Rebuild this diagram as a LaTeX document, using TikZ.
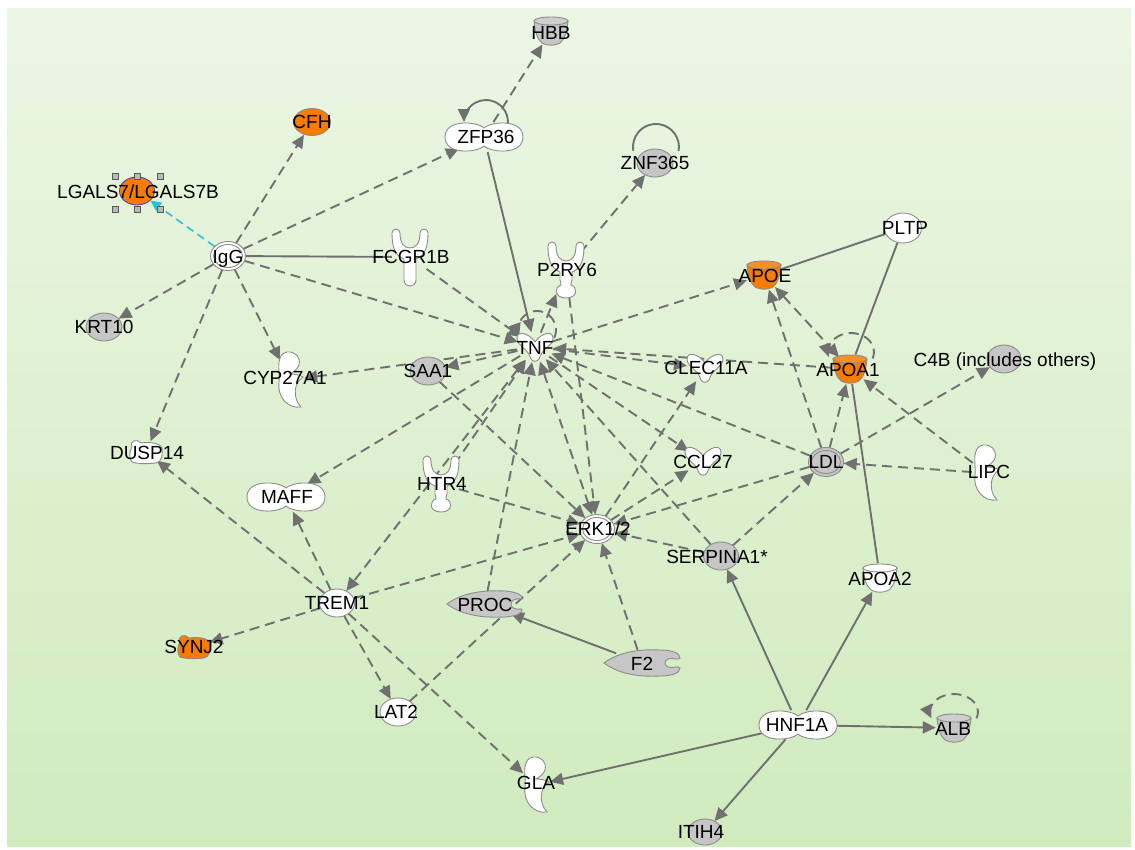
\documentclass[tikz,border=0pt]{standalone}
\usepackage{fontspec}
\setmainfont{Liberation Sans}
\usetikzlibrary{arrows.meta,shapes.geometric}
\pgfdeclarelayer{bg}
\pgfdeclarelayer{edges}
\pgfdeclarelayer{shapes}
\pgfsetlayers{bg,edges,shapes,main}
\definecolor{edgecol}{RGB}{112,112,112}
\definecolor{outl}{RGB}{140,140,140}
\definecolor{ipaor}{RGB}{247,124,0}
\definecolor{ipagr}{RGB}{198,198,198}
\definecolor{selcy}{RGB}{38,196,214}
\definecolor{bgtop}{RGB}{236,246,228}
\definecolor{bgmid}{RGB}{221,240,207}
\definecolor{bgbot}{RGB}{208,235,190}
\tikzset{
  bd/.style 2 args={draw=none, ellipse, inner sep=0pt, minimum width=#1, minimum height=#2},
  lbl/.style={inner sep=0pt, font=\fontsize{19}{21}\selectfont, text=black, text height=13.5pt, text depth=0pt},
  shp/.style={draw=outl, line width=0.9pt},
  >={Triangle[length=13pt,width=12pt]},
  dedge/.style={draw=edgecol, line width=1.9pt, dash pattern=on 10pt off 6pt, ->},
  sedge/.style={draw=edgecol, line width=1.9pt, ->},
  sline/.style={draw=edgecol, line width=1.9pt},
  cyedge/.style={draw=selcy, line width=1.6pt, dash pattern=on 8pt off 5pt, -{Triangle[length=11pt,width=10pt]}},
  selsq/.style={draw=gray!70!black, fill=gray!55, line width=0.6pt}
}
\newcommand{\shpell}[4]{\path[shp,fill=#2] (#1.center) ellipse [x radius=#3,y radius=#4];}
\newcommand{\shpdbl}[2]{\path[shp,fill=#2] (#1.center) ellipse [x radius=17.5,y radius=14.5];
  \path[shp,fill=#2] (#1.center) ellipse [x radius=14.5,y radius=11.5];}
\newcommand{\shpcup}[2]{\begin{scope}[shift={(#1.center)}]
  \path[shp,fill=#2] (-17,-10) .. controls (-16,0) and (-14,8) .. (-9,12) .. controls (-4,15) and (4,15) .. (9,12) .. controls (14,8) and (16,0) .. (17,-10) -- cycle;
  \path[shp,fill=#2!85!white] (0,-10) ellipse [x radius=17,y radius=4];
  \end{scope}}
\newcommand{\shppeanut}[2]{\begin{scope}[shift={(#1.center)}]
  \path[shp,fill=#2] (0,-9) .. controls (-8,-16) and (-39,-18) .. (-39,0) .. controls (-39,18) and (-8,16) .. (0,9) .. controls (8,16) and (39,18) .. (39,0) .. controls (39,-18) and (8,-16) .. (0,-9) -- cycle;
  \end{scope}}
\newcommand{\shprecep}[2]{\begin{scope}[shift={(#1.center)}]
  \path[shp,fill=#2] (-6,23) -- (-6,2) .. controls (-16,-2) and (-18,-12) .. (-18,-24) arc[start angle=180,end angle=360,radius=4] .. controls (-10,-14) and (-6,-9) .. (0,-9) .. controls (6,-9) and (10,-14) .. (10,-24) arc[start angle=180,end angle=360,radius=4] .. controls (18,-12) and (16,-2) .. (6,2) -- (6,23) arc[start angle=0,end angle=180,radius=6] -- cycle;
  \end{scope}}
\newcommand{\shprecepb}[2]{\begin{scope}[shift={(#1.center)}]
  \path[shp,fill=#2] (-6,2) .. controls (-16,-2) and (-18,-12) .. (-18,-24) arc[start angle=180,end angle=360,radius=4] .. controls (-10,-14) and (-6,-9) .. (0,-9) .. controls (6,-9) and (10,-14) .. (10,-24) arc[start angle=180,end angle=360,radius=4] .. controls (18,-12) and (16,-2) .. (6,2) -- (6,10) .. controls (6,13) and (4,13) .. (5,15) .. controls (12,17) and (12,28) .. (0,28) .. controls (-12,28) and (-12,17) .. (-5,15) .. controls (-4,13) and (-6,13) .. (-6,10) -- cycle;
  \end{scope}}
\newcommand{\shpcyto}[2]{\begin{scope}[shift={(#1.center)}]
  \path[shp,fill=#2] (0,-5) .. controls (-6,-14) and (-18,-17) .. (-18,-9) .. controls (-18,-1) and (-7,1) .. (-4,12) .. controls (-2,15) and (2,15) .. (4,12) .. controls (7,1) and (18,-1) .. (18,-9) .. controls (18,-17) and (6,-14) .. (0,-5) -- cycle;
  \end{scope}}
\newcommand{\shpenz}[2]{\begin{scope}[shift={(#1.center)}]
  \path[shp,fill=#2] (-3,-28) .. controls (5,-29) and (11,-23) .. (9,-15) .. controls (7,-10) and (3,-8) .. (0,-6) .. controls (5,-6) and (10,-5) .. (13,-3) .. controls (3,3) and (3,19) .. (11,27) .. controls (-3,29) and (-13,16) .. (-11,2) .. controls (-10,-6) and (-12,-10) .. (-11,-18) .. controls (-10,-24) and (-8,-27) .. (-3,-28) -- cycle;
  \end{scope}}
\newcommand{\shppept}[2]{\begin{scope}[shift={(#1.center)}]
  \path[shp,fill=#2] (-38,0) .. controls (-22,-12) and (0,-14) .. (20,-13) .. controls (32,-12) and (38,-9) .. (37,-5) .. controls (31,-6) and (26,-4) .. (26,0) .. controls (26,4) and (31,6) .. (37,5) .. controls (38,9) and (32,12) .. (20,13) .. controls (0,14) and (-22,12) .. (-38,0) -- cycle;
  \end{scope}}
\newcommand{\shppeptb}[2]{\begin{scope}[shift={(#1.center)}]
  \path[shp,fill=#2] (-38,0) .. controls (-22,-12) and (0,-14) .. (18,-13) .. controls (30,-13) and (38,-10) .. (38,-5) .. controls (36,-2) and (30,-6) .. (26,-4) .. controls (22,-2) and (22,2) .. (26,4) .. controls (30,6) and (36,2) .. (38,5) .. controls (38,10) and (30,13) .. (18,13) .. controls (0,14) and (-22,12) .. (-38,0) -- cycle;
  \end{scope}}
\newcommand{\shpphos}[2]{\begin{scope}[shift={(#1.center)}]
  \path[shp,fill=#2] (-14,-5) .. controls (-17,-11) and (-9,-14) .. (-5,-9) .. controls (2,-10) and (13,-10) .. (16,-4) .. controls (17,2) and (16,10) .. (10,11) .. controls (2,12) and (-8,12) .. (-14,10) .. controls (-17,6) and (-17,0) .. (-14,-5) -- cycle;
  \end{scope}}
\begin{document}
\begin{tikzpicture}[x=1pt,y=-1pt]
\useasboundingbox (0,0) rectangle (1135,849);
\begin{pgfonlayer}{bg}
\fill[white] (0,0) rectangle (1135,849);
\fill[top color=bgtop, middle color=bgmid, bottom color=bgbot] (7,8) rectangle (1131,846);
\end{pgfonlayer}
% boundary nodes
\node[bd={36pt}{30pt}] (hbb) at (551,31) {};
\node[bd={78pt}{30pt}] (zfp) at (484,137) {};
\node[bd={37pt}{28pt}] (cfh) at (312,122) {};
\node[bd={36pt}{28pt}] (znf) at (655,163) {};
\node[bd={35pt}{28pt}] (lgals) at (137,191) {};
\node[bd={35pt}{29pt}] (igg) at (228,256) {};
\node[bd={36pt}{58pt}] (fcgr) at (410,257) {};
\node[bd={36pt}{56pt}] (p2ry) at (566,270) {};
\node[bd={37pt}{30pt}] (pltp) at (903,228) {};
\node[bd={36pt}{30pt}] (apoe) at (764,275) {};
\node[bd={36pt}{28pt}] (krt) at (104,327) {};
\node[bd={36pt}{30pt}] (tnf) at (535,347) {};
\node[bd={36pt}{28pt}] (saa) at (428,371) {};
\node[bd={28pt}{56pt}] (cyp) at (290,380) {};
\node[bd={36pt}{30pt}] (clec) at (705,368) {};
\node[bd={36pt}{30pt}] (apoa1) at (850,369) {};
\node[bd={34pt}{28pt}] (c4b) at (1004,359) {};
\node[bd={34pt}{22pt}] (dusp) at (146,452) {};
\node[bd={78pt}{30pt}] (maff) at (286,497) {};
\node[bd={36pt}{56pt}] (htr) at (441,484) {};
\node[bd={36pt}{30pt}] (ccl) at (703,461) {};
\node[bd={35pt}{29pt}] (ldl) at (826,462) {};
\node[bd={28pt}{56pt}] (lipc) at (986,473) {};
\node[bd={35pt}{29pt}] (erk) at (597,529) {};
\node[bd={35pt}{28pt}] (serp) at (721,556) {};
\node[bd={36pt}{30pt}] (apoa2) at (880,578) {};
\node[bd={35pt}{28pt}] (trem) at (337,603) {};
\node[bd={76pt}{26pt}] (proc) at (485,604) {};
\node[bd={34pt}{22pt}] (synj) at (194,647) {};
\node[bd={76pt}{26pt}] (f2) at (642,663) {};
\node[bd={36pt}{28pt}] (lat) at (398,712) {};
\node[bd={78pt}{30pt}] (hnf) at (798,725) {};
\node[bd={36pt}{30pt}] (alb) at (954,728) {};
\node[bd={28pt}{56pt}] (gla) at (536,785) {};
\node[bd={34pt}{26pt}] (itih) at (705,832) {};
% edges
\begin{pgfonlayer}{edges}
\draw[dedge] (igg) -- (cfh);
\draw[dedge] (igg) -- (zfp);
\draw[cyedge] (igg) -- (lgals);
\draw[sline] (igg) -- (fcgr);
\draw[dedge] (igg) -- (tnf);
\draw[dedge] (igg) -- (krt);
\draw[dedge] (igg) -- (cyp);
\draw[dedge] (igg) -- (dusp);
\draw[dedge] (zfp) -- (hbb);
\draw[sedge] (zfp) -- (tnf);
\draw[sedge] ([shift={(23.2,-9.3)}]zfp.center) arc[start angle=15,end angle=-180,radius=22];
\draw[sline] ([shift={(23.6,-12)}]znf.center) arc[start angle=10,end angle=-190,radius=23];
\draw[dedge] ([shift={(19.2,-9)}]tnf.center) arc[start angle=25,end angle=-200,radius=19];
\draw[dedge] ([shift={(22.6,-10.5)}]apoa1.center) arc[start angle=20,end angle=-195,x radius=23,y radius=19];
\draw[dedge] ([shift={(22.5,-9.8)}]alb.center) arc[start angle=20,end angle=-200,x radius=24,y radius=18];
\draw[dedge] (p2ry) -- (znf);
\draw[dedge] (fcgr) -- (tnf);
\draw[dedge] (tnf) -- (p2ry);
\draw[dedge] (p2ry) -- (erk);
\draw[dedge] (tnf) -- (apoe);
\draw[dedge] (tnf) -- (saa);
\draw[dedge] (tnf) -- (cyp);
\draw[dedge] (tnf) -- (maff);
\draw[dedge] (tnf) -- (ccl);
\draw[dedge,<->] (tnf) -- (erk);
\draw[dedge] (tnf) -- (clec);
\draw[dedge,<->] (tnf) -- (trem);
\draw[dedge] (apoa1) -- (tnf);
\draw[dedge] (ldl) -- (tnf);
\draw[dedge] (serp) -- (tnf);
\draw[dedge] (htr) -- (tnf);
\draw[dedge] (proc) -- (tnf);
\draw[dedge] (saa) -- (erk);
\draw[dedge] (htr) -- (erk);
\draw[dedge] (trem) -- (erk);
\draw[dedge] (lat) -- (erk);
\draw[dedge] (f2) -- (erk);
\draw[dedge] (ldl) -- (erk);
\draw[dedge] (serp) -- (erk);
\draw[dedge] (erk) -- (clec);
\draw[dedge] (erk) -- (ccl);
\draw[dedge] (serp) -- (ldl);
\draw[dedge] (ldl) -- (apoe);
\draw[dedge] (ldl) -- (apoa1);
\draw[dedge] (ldl) -- (c4b);
\draw[dedge,<->] (apoe) -- (apoa1);
\draw[dedge] (lipc) -- (ldl);
\draw[dedge] (lipc) -- (apoa1);
\draw[sline] (pltp) -- (apoe);
\draw[sline] (pltp) -- (apoa1);
\draw[sline] (apoa1) -- (apoa2);
\draw[sedge] (hnf) -- (serp);
\draw[sedge] (hnf) -- (apoa2);
\draw[sedge] (hnf) -- (alb);
\draw[sedge] (hnf) -- (gla);
\draw[sedge] (hnf) -- (itih);
\draw[sedge] (f2) -- (proc);
\draw[dedge] (trem) -- (dusp);
\draw[dedge] (trem) -- (maff);
\draw[dedge] (trem) -- (synj);
\draw[dedge] (trem) -- (lat);
\draw[dedge] (trem) -- (gla);
\end{pgfonlayer}
% shapes
\begin{pgfonlayer}{shapes}
\shpcup{hbb}{ipagr}
\shppeanut{zfp}{white}
\shpell{cfh}{ipaor}{18.5}{13.5}
\shpell{znf}{ipagr}{18}{14}
\path[draw=blue!55!gray, line width=0.8pt, fill=ipaor] (lgals.center) ellipse [x radius=17.5,y radius=14];
\foreach \dx in {-22,0,23} \foreach \dy in {-15,18} {\path[selsq] ([shift={(\dx-3,\dy-3)}]lgals.center) rectangle ++(6,6);}
\shpdbl{igg}{white}
\shprecep{fcgr}{white}
\shprecepb{p2ry}{white}
\shpell{pltp}{white}{18.5}{15}
\shpcup{apoe}{ipaor}
\shpell{krt}{ipagr}{18}{14}
\shpcyto{tnf}{white}
\shpell{saa}{ipagr}{18}{14}
\shpenz{cyp}{white}
\shpcyto{clec}{white}
\shpcup{apoa1}{ipaor}
\shpell{c4b}{ipagr}{17}{14}
\shpphos{dusp}{white}
\shppeanut{maff}{white}
\shprecepb{htr}{white}
\shpcyto{ccl}{white}
\shpdbl{ldl}{ipagr}
\shpenz{lipc}{white}
\shpdbl{erk}{white}
\shpell{serp}{ipagr}{17.5}{14}
\shpcup{apoa2}{white}
\shpell{trem}{white}{17.5}{14}
\shppept{proc}{ipagr}
\shpphos{synj}{ipaor}
\shppeptb{f2}{ipagr}
\shpell{lat}{white}{18}{14}
\shppeanut{hnf}{white}
\shpcup{alb}{ipagr}
\shpenz{gla}{white}
\shpell{itih}{ipagr}{17}{13}
\end{pgfonlayer}
% labels
\node[lbl] (t-hbb) at (551,33) {HBB};
\node[lbl] (t-zfp) at (486,137) {ZFP36};
\node[lbl] (t-cfh) at (312,122) {CFH};
\node[lbl] (t-znf) at (655,163) {ZNF365};
\node[lbl] (t-lgals) at (138,192) {LGALS7/LGALS7B};
\node[lbl] (t-igg) at (228,257) {IgG};
\node[lbl] (t-fcgr) at (411,257) {FCGR1B};
\node[lbl] (t-p2ry) at (567,270) {P2RY6};
\node[lbl] (t-pltp) at (905,228) {PLTP};
\node[lbl] (t-apoe) at (765,276) {APOE};
\node[lbl] (t-krt) at (104,327) {KRT10};
\node[lbl] (t-tnf) at (535,348) {TNF};
\node[lbl] (t-saa) at (428,371) {SAA1};
\node[lbl] (t-cyp) at (285,378) {CYP27A1};
\node[lbl] (t-clec) at (706,368) {CLEC11A};
\node[lbl] (t-apoa1) at (848,370) {APOA1};
\node[lbl] (t-c4b) at (1005,360) {C4B (includes others)};
\node[lbl] (t-dusp) at (147,453) {DUSP14};
\node[lbl] (t-maff) at (287,497) {MAFF};
\node[lbl] (t-htr) at (442,484) {HTR4};
\node[lbl] (t-ccl) at (703,462) {CCL27};
\node[lbl] (t-ldl) at (826,462) {LDL};
\node[lbl] (t-lipc) at (989,472) {LIPC};
\node[lbl] (t-erk) at (598,529) {ERK1/2};
\node[lbl] (t-serp) at (717,557) {SERPINA1*};
\node[lbl] (t-apoa2) at (880,579) {APOA2};
\node[lbl] (t-trem) at (337,603) {TREM1};
\node[lbl] (t-proc) at (485,605) {PROC};
\node[lbl] (t-synj) at (194,647) {SYNJ2};
\node[lbl] (t-f2) at (642,664) {F2};
\node[lbl] (t-lat) at (396,712) {LAT2};
\node[lbl] (t-hnf) at (797,725) {HNF1A};
\node[lbl] (t-alb) at (953,729) {ALB};
\node[lbl] (t-gla) at (536,783) {GLA};
\node[lbl] (t-itih) at (701,832) {ITIH4};
\end{tikzpicture}
\end{document}
